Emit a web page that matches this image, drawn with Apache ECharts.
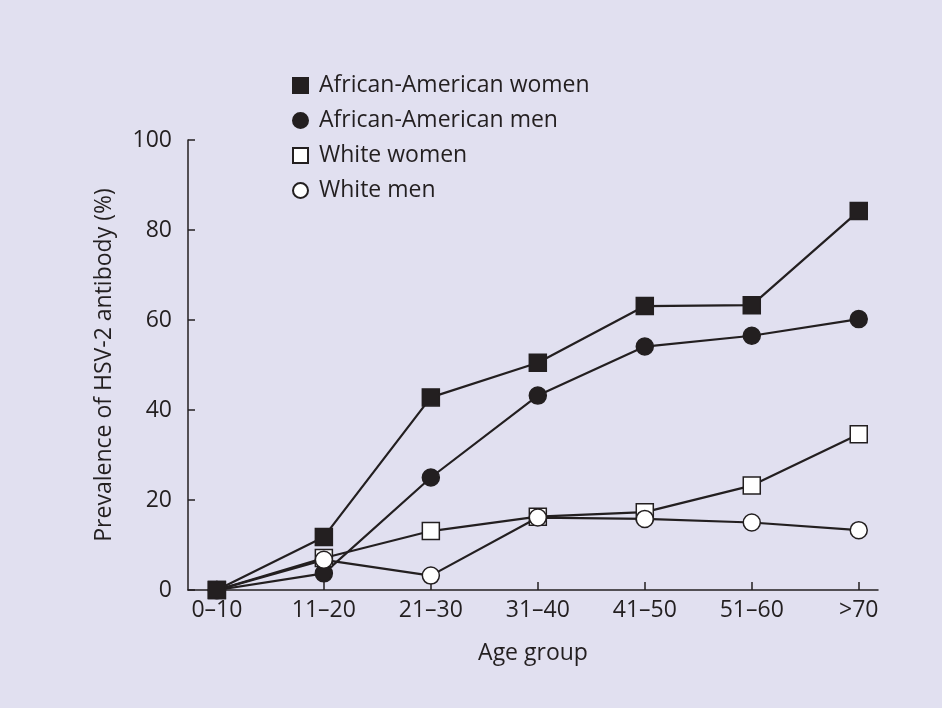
<!DOCTYPE html>
<html>
<head>
<meta charset="utf-8">
<script src="https://cdn.jsdelivr.net/npm/echarts@6/dist/echarts.min.js"></script>
<style>
  html, body { margin: 0; padding: 0; background: #e1e0f0; }
  #main { width: 942px; height: 708px; }
</style>
</head>
<body>
<div id="main"></div>
<script>
// age groups along the x axis
const ageGroups = ['0–10', '11–20', '21–30', '31–40', '41–50', '51–60', '>70'];

// prevalence (%)
const aaWomen = [0, 11.8, 42.8, 50.5, 63.1, 63.3, 84.2];
const aaMen = [0, 3.7, 25.0, 43.2, 54.1, 56.5, 60.2];
const whiteWomen = [0, 7.1, 13.1, 16.3, 17.3, 23.2, 34.6];
const whiteMen = [0, 6.7, 3.2, 16.1, 15.8, 15.0, 13.3];

const yTicks = [0, 20, 40, 60, 80, 100];

const ink = '#231f20';
const font = 'Open Sans';
const fw = 'normal';

const mychart = echarts.init(document.getElementById('main'));

const toPoints = arr => arr.map((v, i) => [i, v]);

const makeSeries = (name, data, symbol, filled, z) => ({
    name: name,
    type: 'line',
    z: z,
    data: toPoints(data),
    symbol: symbol,
    symbolSize: 17,
    lineStyle: { color: ink, width: 2.2 },
    itemStyle: { color: filled ? ink : '#ffffff', borderColor: ink, borderWidth: 1.5 },
    emphasis: { disabled: true },
    animation: false
});

const option = {
    backgroundColor: '#e1e0f0',
    textStyle: { fontFamily: font, color: ink, fontWeight: fw },
    legend: {
        orient: 'vertical',
        left: 287,
        top: 69,
        itemWidth: 15,
        itemHeight: 15,
        itemGap: 12,
        textStyle: { fontFamily: font, fontWeight: fw, fontSize: 23, color: ink, padding: [0, 0, 0, 6] },
        data: [
            { name: 'African-American women', icon: 'rect' },
            { name: 'African-American men', icon: 'circle' },
            { name: 'White women', icon: 'rect' },
            { name: 'White men', icon: 'circle' }
        ]
    },
    grid: { left: 188, right: 64, top: 140, bottom: 118 },
    xAxis: {
        type: 'value',
        min: -0.27,
        max: 6.18,
        name: 'Age group',
        nameLocation: 'middle',
        nameGap: 52,
        nameMoveOverlap: false,
        nameTextStyle: { fontFamily: font, fontWeight: fw, fontSize: 23, color: ink },
        axisLine: { lineStyle: { color: ink, width: 1.5 } },
        axisTick: { inside: true, length: 8, lineStyle: { color: ink, width: 1.5 }, customValues: [0, 1, 2, 3, 4, 5, 6] },
        axisLabel: {
            customValues: [0, 1, 2, 3, 4, 5, 6],
            formatter: v => ageGroups[Math.round(v)],
            fontFamily: font, fontWeight: fw, fontSize: 23, color: ink, margin: 9
        },
        splitLine: { show: false }
    },
    yAxis: {
        type: 'value',
        min: 0,
        max: 100,
        interval: 20,
        name: 'Prevalence of HSV-2 antibody (%)',
        nameLocation: 'middle',
        nameGap: 72,
        nameMoveOverlap: false,
        nameTextStyle: { fontFamily: font, fontWeight: fw, fontSize: 23, color: ink },
        axisLine: { show: true, onZero: false, lineStyle: { color: ink, width: 1.5 } },
        axisTick: { show: true, inside: true, length: 7, lineStyle: { color: ink, width: 1.5 } },
        axisLabel: { fontFamily: font, fontWeight: fw, fontSize: 23, color: ink, margin: 16,
            formatter: v => yTicks.includes(v) ? String(v) : '' },
        splitLine: { show: false }
    },
    series: [
        makeSeries('African-American women', aaWomen, 'rect', true, 5),
        makeSeries('African-American men', aaMen, 'circle', true, 2),
        makeSeries('White women', whiteWomen, 'rect', false, 3),
        makeSeries('White men', whiteMen, 'circle', false, 4)
    ]
};

mychart.setOption(option);
</script>
</body>
</html>
